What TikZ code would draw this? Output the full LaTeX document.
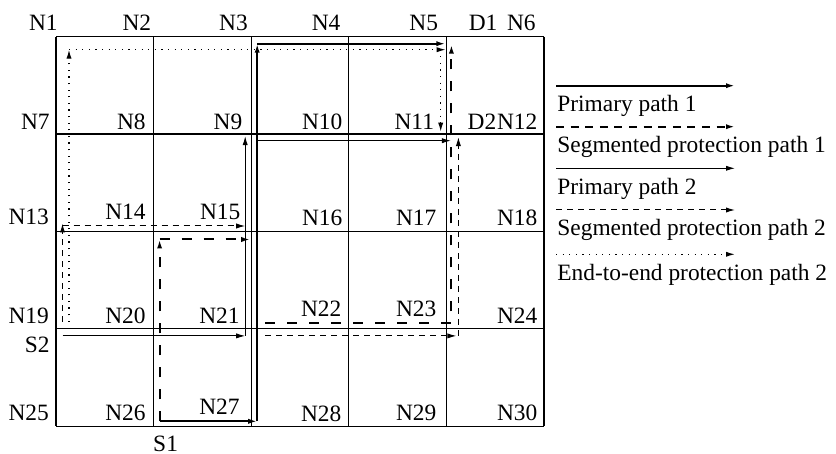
\documentclass[tikz,border=0pt]{standalone}
\usepackage{fontspec}
\setmainfont{Liberation Serif}
\usetikzlibrary{arrows.meta,calc,positioning}

\begin{document}
\begin{tikzpicture}[
    x=0.5pt, y=-0.5pt,
    font=\fontsize{11.7}{14}\selectfont,
    gridline/.style={line width=0.6pt},
    lbl/.style={anchor=base east, inner sep=0pt},
    keytext/.style={anchor=base west, inner sep=0pt},
    tip/.style={-{Latex[length=4.5pt,width=2.6pt]}},
    pripathA/.style={tip, line width=1pt},
    segpathA/.style={tip, line width=1pt, dash pattern=on 5pt off 6pt},
    pripathB/.style={tip, line width=0.5pt},
    segpathB/.style={tip, line width=0.5pt, dash pattern=on 3pt off 2.5pt},
    etepathB/.style={tip, line width=0.6pt, dash pattern=on 0.6pt off 2.7pt}
]
    \useasboundingbox (0,0) rectangle (836,454);

    % grid intersections n1..n30
    \foreach \r in {0,...,4}
        \foreach \c in {0,...,5} {
            \pgfmathtruncatemacro\k{6*\r+\c+1}
            \coordinate (n\k) at (56+97.6*\c, 36.7+97.4*\r);
        }

    % grid
    \foreach \r in {1,...,5} {
        \pgfmathtruncatemacro\a{6*(\r-1)+1}
        \pgfmathtruncatemacro\b{6*\r}
        \draw[gridline] (n\a) -- (n\b);
    }
    \foreach \c in {1,...,6} {
        \pgfmathtruncatemacro\b{24+\c}
        \draw[gridline] (n\c) -- (n\b);
    }

    % node labels
    \foreach \i/\dx/\dy in {1/2/-6, 2/-2/-6, 3/-3/-6, 4/-8/-6, 5/-8/-6, 6/-8/-6,
        7/-6/-5, 8/-7.6/-5, 9/-8.5/-5, 10/-6/-5, 11/-12/-5, 12/-6.3/-5,
        13/-6.7/-6.5, 14/-7.6/-11.5, 15/-10.5/-11.5, 16/-6/-6, 17/-9.7/-6, 18/-6.3/-6,
        19/-6.7/-5.6, 20/-7.6/-5.6, 21/-11.2/-5.6, 22/-7/-12, 23/-9.7/-12, 24/-6.3/-5.6,
        25/-6.7/-5.6, 26/-7.6/-5.6, 27/-11.2/-11.3, 28/-7/-4.6, 29/-9.7/-5.6, 30/-6.3/-5.6}
        \node[lbl] (l\i) at ($(n\i)+(\dx,\dy)$) {N\i};

    \node[inner sep=0pt, anchor=base] (s1) at ($(n26)+(12,25)$) {S1};
    \node[lbl] (s2) at ($(n19)+(-6,24)$) {S2};
    \node[keytext] (d1) at ($(n5)+(22,-6)$) {D1};
    \node[lbl] (d2) at (l12.base west) {D2};

    % primary path 1
    \draw[pripathA] ($(n26)+(6,-5)$) -- ($(n27)+(6,-5)$);
    \draw[pripathA] ($(n27)+(6,-5)$) -- ($(n3)+(6,7)$);
    \draw[pripathA] ($(n3)+(6,7)$) -- ($(n5)+(-1,7)$);

    % segmented protection path 1
    \draw[segpathA] ($(n26)+(6,-5)$) -- ($(n14)+(6,8)$);
    \draw[segpathA] ($(n14)+(6,8)$) -- ($(n15)+(-1,8)$);
    \draw[segpathA] ($(n21)+(14,-5.6)$) -- ($(n23)+(5,-5.6)$) -- ($(n5)+(5,8)$);

    % primary path 2
    \draw[pripathB] ($(n19)+(6.5,7)$) -- ($(n21)+(-6,7)$);
    \draw[pripathB] ($(n21)+(-6,7)$) -- ($(n9)+(-6,2)$);
    \draw[pripathB] ($(n9)+(6,6.6)$) -- ($(n11)+(4.5,6.6)$);

    % segmented protection path 2
    \draw[segpathB] ($(n19)+(6.5,-7)$) -- ($(n13)+(6.5,-8)$);
    \draw[segpathB] ($(n13)+(6.5,-5.5)$) -- ($(n15)+(-6,-5.5)$);
    \draw[segpathB] ($(n21)+(14,7)$) -- ($(n23)+(10,7)$);
    \draw[segpathB] ($(n23)+(12,7)$) -- ($(n11)+(12,3)$);

    % end-to-end protection path 2
    \draw[etepathB] ($(n19)+(13,-7)$) -- ($(n1)+(13,13)$);
    \draw[etepathB] ($(n1)+(13,13)$) -- ($(n5)+(-0.7,13)$);
    \draw[etepathB] ($(n5)+(-5.7,13)$) -- ($(n11)+(-5.7,-2.4)$);

    % legend
    \coordinate (k1a) at (556,85.7);  \coordinate (k1b) at (735,85.7);
    \coordinate (k2a) at (556,126.7); \coordinate (k2b) at (735,126.7);
    \coordinate (k3a) at (556,168.3); \coordinate (k3b) at (735,168.3);
    \coordinate (k4a) at (556,210);   \coordinate (k4b) at (735,210);
    \coordinate (k5a) at (556,254.3); \coordinate (k5b) at (735,254.3);
    \draw[pripathA] (k1a) -- (k1b);
    \draw[segpathA, dash pattern=on 4pt off 3.3pt] (k2a) -- (k2b);
    \draw[pripathB] (k3a) -- (k3b);
    \draw[segpathB] (k4a) -- (k4b);
    \draw[etepathB] (k5a) -- (k5b);
    \node[keytext] (t1) at ($(k1a)+(1,26)$) {Primary path 1};
    \node[keytext] (t2) at ($(k2a)+(1,26)$) {Segmented protection path 1};
    \node[keytext] (t3) at ($(k3a)+(1,26)$) {Primary path 2};
    \node[keytext] (t4) at ($(k4a)+(1,26)$) {Segmented protection path 2};
    \node[keytext] (t5) at ($(k5a)+(1,26)$) {End-to-end protection path 2};
\end{tikzpicture}
\end{document}
